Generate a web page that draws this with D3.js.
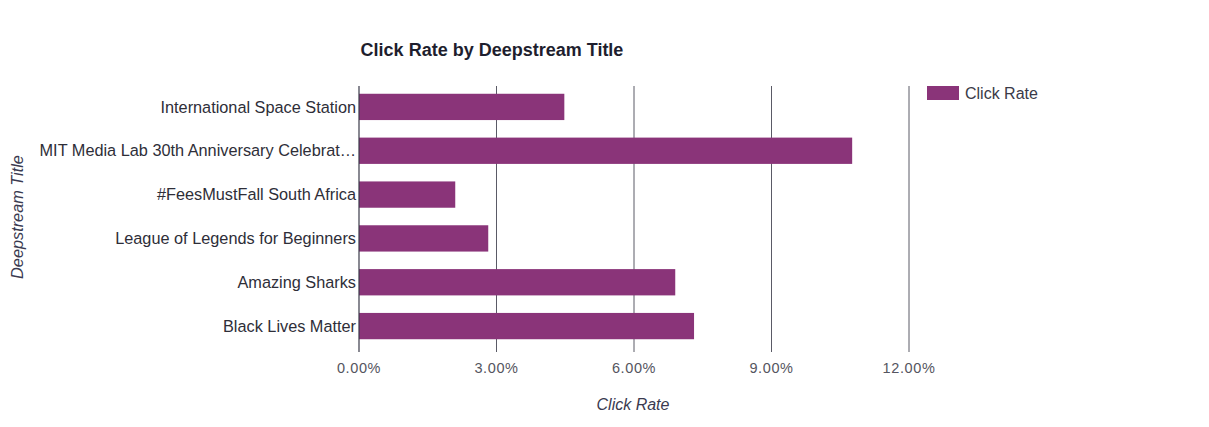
<!DOCTYPE html>
<html><head><meta charset="utf-8">
<script src="https://cdn.jsdelivr.net/npm/d3@7"></script>
<style>body{margin:0;background:#fff}svg{display:block}</style>
</head><body>
<svg id="c" width="1209" height="427"></svg>
<script>
const categories = ["International Space Station","MIT Media Lab 30th Anniversary Celebrat…","#FeesMustFall South Africa","League of Legends for Beginners","Amazing Sharks","Black Lives Matter"];
const clickRate = [4.48, 10.76, 2.10, 2.82, 6.90, 7.31];
const xTicks = [0, 3, 6, 9, 12];
const title = "Click Rate by Deepstream Title";
const seriesName = "Click Rate";
const xTitle = "Click Rate";
const yTitle = "Deepstream Title";

const svg = d3.select("#c");
const x = d3.scaleLinear().domain([0, 12]).range([359, 909]);
const y = d3.scaleBand().domain(categories).range([85, 348]).paddingInner(0.4).paddingOuter(0.2);
const color = "#8a3479";
const font = "Arial, 'Liberation Sans', sans-serif";

// gridlines
svg.append("g").selectAll("line").data(xTicks.slice(1)).join("line")
  .attr("x1", d => x(d)).attr("x2", d => x(d))
  .attr("y1", 86).attr("y2", 352)
  .attr("stroke", "#5a5a66").attr("stroke-width", 1);

// bars
svg.append("g").selectAll("rect").data(categories).join("rect")
  .attr("x", x(0)).attr("y", d => y(d))
  .attr("width", (d, i) => x(clickRate[i]) - x(0))
  .attr("height", y.bandwidth())
  .attr("fill", color);

// y axis line
svg.append("line").attr("x1", x(0)).attr("x2", x(0)).attr("y1", 86).attr("y2", 352)
  .attr("stroke", "#3a3a48").attr("stroke-width", 1.2);

// category labels
svg.append("g").selectAll("text").data(categories).join("text")
  .attr("x", x(0) - 3).attr("y", d => y(d) + y.bandwidth() / 2)
  .attr("dy", "0.35em").attr("text-anchor", "end")
  .attr("font-family", font).attr("font-size", 16.3).attr("fill", "#2e2e38")
  .text(d => d);

// x tick labels
svg.append("g").selectAll("text").data(xTicks).join("text")
  .attr("x", d => x(d)).attr("y", 373).attr("text-anchor", "middle")
  .attr("font-family", font).attr("font-size", 14.5).attr("letter-spacing", 0.6).attr("fill", "#555560")
  .text(d => d3.format(".2f")(d) + "%");

// title
svg.append("text").attr("x", 492).attr("y", 56).attr("text-anchor", "middle")
  .attr("font-family", font).attr("font-size", 18).attr("font-weight", "bold").attr("fill", "#1e1e2e")
  .text(title);

// axis titles
svg.append("text").attr("x", 633).attr("y", 410).attr("text-anchor", "middle")
  .attr("font-family", font).attr("font-size", 16).attr("font-style", "italic").attr("fill", "#3a3a50")
  .text(xTitle);
svg.append("text").attr("transform", "translate(23,217) rotate(-90)").attr("text-anchor", "middle")
  .attr("font-family", font).attr("font-size", 16.3).attr("font-style", "italic").attr("fill", "#3a3a50")
  .text(yTitle);

// legend
svg.append("rect").attr("x", 927).attr("y", 86).attr("width", 32).attr("height", 14).attr("fill", color);
svg.append("text").attr("x", 965).attr("y", 93).attr("dy", "0.35em")
  .attr("font-family", font).attr("font-size", 16).attr("fill", "#3a3a48").text(seriesName);
</script>
</body></html>
